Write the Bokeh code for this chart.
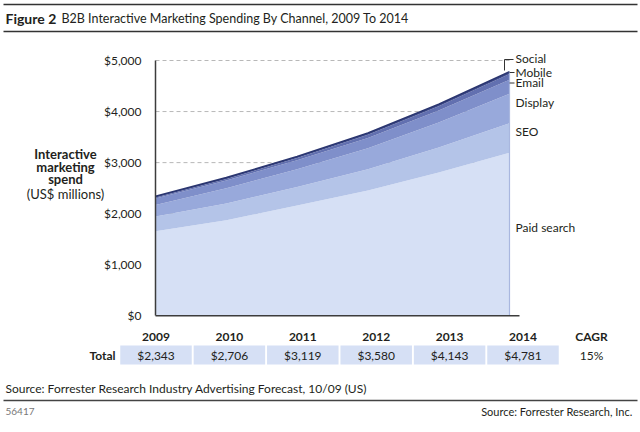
from bokeh.plotting import figure
from bokeh.models import ColumnDataSource, Range1d, FixedTicker, NumeralTickFormatter
from bokeh.core.properties import value
from bokeh.embed import file_html
from bokeh.resources import INLINE

# ---------------- data ----------------
years = [2009, 2010, 2011, 2012, 2013, 2014]
year_labels = ["2009", "2010", "2011", "2012", "2013", "2014"]
paid_search = [1655, 1870, 2162, 2452, 2805, 3191]
seo = [289, 330, 360, 420, 490, 580]
display_ads = [224, 300, 350, 410, 490, 580]
email = [130, 150, 175, 200, 235, 270]
mobile = [20, 30, 45, 65, 85, 115]
social = [25, 26, 27, 33, 38, 45]
totals = [2343, 2706, 3119, 3580, 4143, 4781]
total_labels = ["$2,343", "$2,706", "$3,119", "$3,580", "$4,143", "$4,781"]
cagr_label = "15%"
channels = ["Paid search", "SEO", "Display", "Email", "Mobile", "Social"]
y_ticks = [0, 1000, 2000, 3000, 4000, 5000]

# ---------------- styles / geometry ----------------
FONT = "Lato"
INK = "#231f20"
colors = ["#d6e0f5", "#b4c4e8", "#98a9db", "#7f8fca", "#6270b0", "#3f4c8c"]
keys = ["paid_search", "seo", "display", "email", "mobile", "social"]

W, H = 640, 432
AXIS_X = 155.0          # pixel column of the first year / y axis
PX_PER_YEAR = 70.8
ZERO_Y = 315.3          # pixel row of $0
PX_PER_UNIT = 255.3 / 5000

x0 = years[0] - AXIS_X / PX_PER_YEAR
y0 = -(H - ZERO_Y) / PX_PER_UNIT
p = figure(width=W, height=H,
           x_range=Range1d(x0, x0 + W / PX_PER_YEAR),
           y_range=Range1d(y0, y0 + H / PX_PER_UNIT),
           x_axis_location=None, toolbar_location=None, output_backend="svg",
           min_border=0, outline_line_color=None, title=None)
p.xgrid.visible = False
p.ygrid.visible = False
# pixel-space ranges for the page furniture (title, table, notes)
p.extra_x_ranges = {"px": Range1d(0, W)}
p.extra_y_ranges = {"py": Range1d(H, 0)}
PX = dict(x_range_name="px", y_range_name="py")

src = ColumnDataSource(dict(year=years, paid_search=paid_search, seo=seo, display=display_ads,
                            email=email, mobile=mobile, social=social, total=totals))

# dashed gridlines behind the area
p.segment(x0=[years[0]] * 5, x1=[years[-1]] * 5, y0=y_ticks[1:], y1=y_ticks[1:],
          line_color="#b8b8b8", line_dash="4 3", line_width=1)

p.varea_stack(stackers=keys, x="year", color=colors, source=src)
p.line(x="year", y="total", source=src, line_color="#2b3670", line_width=1.6)
p.segment(x0=[years[-1]], y0=[0], x1=[years[-1]], y1=[totals[-1]], line_color="#a9b7df", line_width=1.2)
p.segment(x0=[years[0]], y0=[0], x1=[years[-1] + 10 / PX_PER_YEAR], y1=[0],
          line_color="#3c3c3c", line_width=1.5)

yax = p.yaxis[0]
yax.fixed_location = years[0]
yax.ticker = FixedTicker(ticks=y_ticks)
yax.bounds = (0, 5000)
yax.formatter = NumeralTickFormatter(format="$0,0")
yax.major_label_text_font = FONT
yax.major_label_text_font_size = "12px"
yax.major_label_text_color = INK
yax.major_tick_line_color = None
yax.minor_tick_line_color = None
yax.axis_line_color = "#3c3c3c"
yax.axis_line_width = 1.5
yax.major_label_standoff = 8


def txt(x, y, t, size="12px", style="normal", align="left", color=INK):
    p.text(x=x, y=y, text=t, text_font=value(FONT), text_font_size=value(size),
           text_font_style=style, text_align=align, text_baseline="middle",
           text_color=color, **PX)


# ---------------- title ----------------
p.segment(x0=[3, 3], y0=[4, 31], x1=[637, 637], y1=[4, 31], line_color="#333333", line_width=1.5, **PX)
txt([5], [18], ["Figure 2"], size="14px", style="bold")
txt([61], [18], ["B2B Interactive Marketing Spending By Channel, 2009 To 2014"], size="12.5px")

# ---------------- left axis title ----------------
txt([65, 65, 65], [153, 166, 178], ["Interactive", "marketing", "spend"], size="13px",
    style="bold", align="center")
txt([65], [193], ["(US$ millions)"], size="13px", align="center")

# ---------------- series labels on the right ----------------
txt([515] * 6, [226.7, 130.7, 101.7, 82.3, 71.7, 58], channels)
p.multi_line(xs=[[504, 504, 513], [509, 514], [509, 514]],
             ys=[[70, 59, 59], [72, 72], [82.5, 82.5]],
             line_color="#333333", line_width=1, **PX)

# ---------------- table ----------------
col_x = [155.5 + i * 73.4 for i in range(len(years))]
cagr_x = 591
p.rect(x=col_x, y=[354.5] * 6, width=71.5, height=19, fill_color="#d6e0f5", line_color=None, **PX)
txt(col_x + [cagr_x], [336] * 7, year_labels + ["CAGR"], style="bold", align="center")
txt(col_x + [cagr_x], [354.5] * 7, total_labels + [cagr_label], align="center")
txt([115], [354.5], ["Total"], style="bold", align="right")

# ---------------- footer ----------------
txt([5], [388], ["Source: Forrester Research Industry Advertising Forecast, 10/09 (US)"])
p.segment(x0=[3], y0=[400], x1=[637], y1=[400], line_color="#444444", line_width=1.5, **PX)
txt([5], [411], ["56417"], size="10px", color="#777777")
txt([632], [411], ["Source: Forrester Research, Inc."], size="11px", align="right")

open("out.html", "w").write(file_html(p, INLINE))
